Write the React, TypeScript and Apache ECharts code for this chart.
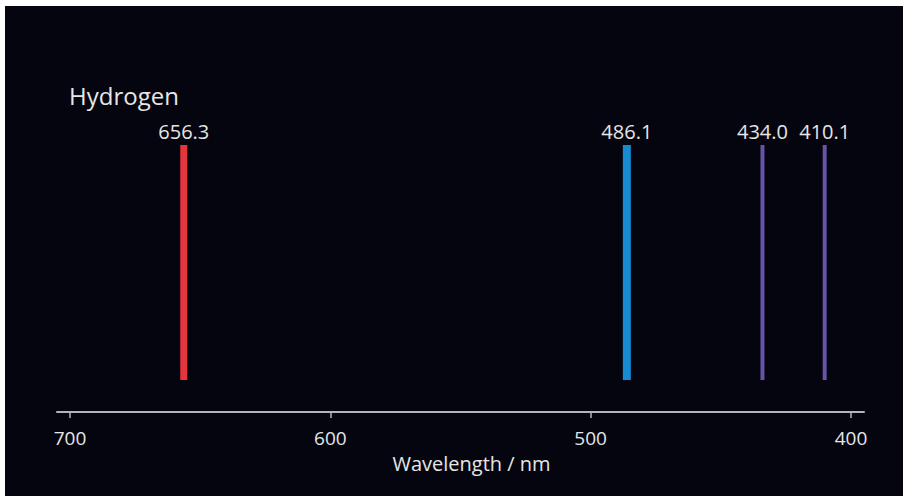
import React, { useEffect, useRef } from "react";
import * as echarts from "echarts";

const title = "Hydrogen";
const axisName = "Wavelength / nm";
const wavelengths = [656.3, 486.1, 434.0, 410.1];
const lineLabels = ["656.3", "486.1", "434.0", "410.1"];
const tickValues = [400, 500, 600, 700];
const lineBottom = 0.12;
const lineTop = 1;

const lineColors = ["#e6353d", "#178bd2", "#6a52a6", "#6a52a6"];
const lineWidths = [7, 8, 4, 4];
const FONT = '"Open Sans", "Noto Sans", sans-serif';
const TEXT = "#e6e6e6";

export default function App() {
  const ref = useRef<HTMLDivElement>(null);
  useEffect(() => {
    if (!ref.current) return;
    const chart = echarts.init(ref.current, undefined, { renderer: "svg" });
    chart.setOption({
      animation: false,
      backgroundColor: "#05050f",
      title: {
        text: title,
        left: 64,
        top: 77,
        padding: 0,
        textStyle: { color: TEXT, fontSize: 24, fontWeight: "normal", fontFamily: FONT },
      },
      grid: { left: 52, right: 39, top: 139, bottom: 84 },
      xAxis: {
        type: "value",
        min: 395,
        max: 705,
        inverse: true,
        name: axisName,
        nameLocation: "middle",
        nameGap: 41,
        nameTextStyle: { color: TEXT, fontSize: 20, fontFamily: FONT, padding: [0, 0, 0, 22] },
        axisLine: { show: true, lineStyle: { color: "#b4b4b8", width: 2 } },
        axisTick: {
          show: true,
          customValues: tickValues,
          inside: false,
          length: 6,
          lineStyle: { color: "#b4b4b8", width: 1.5 },
        },
        axisLabel: {
          customValues: tickValues,
          color: TEXT,
          fontSize: 19,
          fontFamily: FONT,
          margin: 16,
        },
        splitLine: { show: false },
      },
      yAxis: {
        type: "value",
        min: 0,
        max: 1,
        show: false,
        splitLine: { show: false },
      },
      series: [
        {
          type: "custom",
          clip: false,
          data: wavelengths.map((w) => [w]),
          encode: { x: 0 },
          renderItem: (params: any, api: any) => {
            const x = api.value(0);
            const top = api.coord([x, lineTop]);
            const bot = api.coord([x, lineBottom]);
            const i = params.dataIndex;
            const w = lineWidths[i];
            return {
              type: "group",
              children: [
                {
                  type: "rect",
                  shape: { x: top[0] - w / 2, y: top[1], width: w, height: bot[1] - top[1] },
                  style: { fill: lineColors[i] },
                },
                {
                  type: "text",
                  x: top[0],
                  y: top[1] - 14,
                  style: {
                    text: lineLabels[i],
                    fill: TEXT,
                    fontSize: 20,
                    fontFamily: FONT,
                    align: "center",
                    verticalAlign: "middle",
                  },
                },
              ],
            };
          },
        },
      ],
    });
    return () => chart.dispose();
  }, []);
  return (
    <div style={{ position: "fixed", left: 0, top: 0, width: 903, height: 496, background: "#ffffff" }}>
      <div ref={ref} style={{ position: "absolute", left: 5, top: 6, width: 898, height: 490 }} />
    </div>
  );
}
